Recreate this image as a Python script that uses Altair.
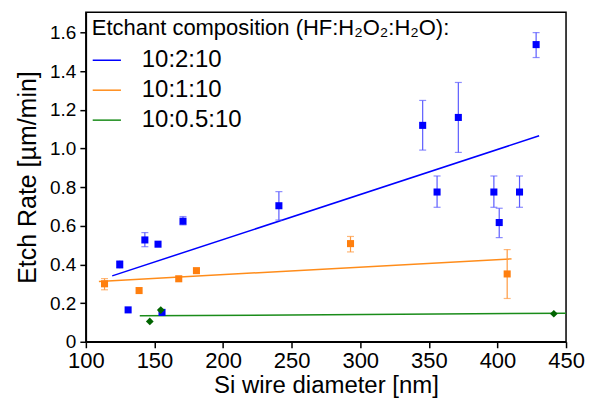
import altair as alt
import pandas as pd
import numpy as np

# ---- data ----
blue_x = [124.7, 130.8, 143.0, 152.6, 155.5, 170.8, 240.7, 345.5, 356.0, 371.5, 397.4, 401.3, 416.1, 428.2]
blue_y = [0.40, 0.165, 0.527, 0.505, 0.152, 0.624, 0.704, 1.12, 0.775, 1.161, 0.775, 0.617, 0.775, 1.538]
blue_lo = [0.38, None, 0.492, None, None, 0.605, 0.63, 0.992, 0.696, 0.98, 0.696, 0.539, 0.696, 1.471]
blue_hi = [0.42, None, 0.565, None, None, 0.648, 0.777, 1.249, 0.858, 1.342, 0.858, 0.691, 0.858, 1.60]

orange_x = [113.6, 138.8, 167.7, 180.6, 292.9, 407.1]
orange_y = [0.30, 0.265, 0.326, 0.368, 0.508, 0.351]
orange_lo = [0.269, None, None, None, 0.465, 0.224]
orange_hi = [0.327, None, None, None, 0.545, 0.477]

green_x = [146.6, 154.6, 441.1]
green_y = [0.105, 0.164, 0.145]

# fitted trend lines (end points)
fit_series = ["10:2:10", "10:2:10", "10:1:10", "10:1:10", "10:0.5:10", "10:0.5:10"]
fit_x = [119.2, 430.4, 109.5, 410.3, 139.3, 450.0]
fit_y = [0.341, 1.066, 0.312, 0.429, 0.134, 0.148]

series_names = ["10:2:10", "10:1:10", "10:0.5:10"]
series_colors = ["#0000FF", "#FF8C1A", "#1A8C1A"]
marker_colors = {"10:2:10": "#0000FF", "10:1:10": "#FF7F0E", "10:0.5:10": "#006400"}
err_colors = {"10:2:10": "#5C5CFF", "10:1:10": "#FF9A40"}

rows = []
for s, xs, ys, los, his in [("10:2:10", blue_x, blue_y, blue_lo, blue_hi),
                            ("10:1:10", orange_x, orange_y, orange_lo, orange_hi)]:
    for x, y, lo, hi in zip(xs, ys, los, his):
        rows.append(dict(series=s, x=x, y=y, lo=lo, hi=hi,
                         col=marker_colors[s], ecol=err_colors[s]))
pts = pd.DataFrame(rows)
err = pts.dropna(subset=["lo", "hi"])
green = pd.DataFrame(dict(x=green_x, y=green_y, col=marker_colors["10:0.5:10"]))
fits = pd.DataFrame(dict(series=fit_series, x=fit_x, y=fit_y))

FONT = "Liberation Sans"
xscale = alt.Scale(domain=[100, 450], nice=False, zero=False)
yscale = alt.Scale(domain=[0, 1.705], nice=False)

xvals = list(range(100, 451, 25))
yvals = [round(v, 1) for v in np.arange(0, 1.65, 0.1)]

xaxis = alt.Axis(
    title="Si wire diameter [nm]", values=xvals,
    labelExpr="datum.value % 50 == 0 ? datum.label : ''",
    tickSize={"condition": {"test": "datum.value % 50 == 0", "value": 6}, "value": 3},
    grid=False, labelFontSize=22, titleFontSize=24, labelColor="black", titleColor="black",
    labelFont=FONT, titleFont=FONT, titleFontWeight="normal", domainColor="black",
    tickColor="black", domainWidth=1.5, tickWidth=1.5, labelPadding=3, titlePadding=2,
    labelFlush=False, labelOverlap=False,
)
yaxis = alt.Axis(
    title="Etch Rate [µm/min]", values=yvals,
    labelExpr="round(datum.value*10) % 2 == 0 ? (datum.value == 0 ? '0' : format(datum.value, '.1f')) : ''",
    tickSize={"condition": {"test": "round(datum.value*10) % 2 == 0", "value": 6}, "value": 3},
    grid=False, labelFontSize=19, titleFontSize=25, labelColor="black", titleColor="black",
    labelFont=FONT, titleFont=FONT, titleFontWeight="normal", domainColor="black",
    tickColor="black", domainWidth=1.5, tickWidth=1.5, labelPadding=4, titlePadding=9,
    labelFlush=False, labelOverlap=False,
)

base_x = alt.X("x:Q", scale=xscale, axis=xaxis)
base_y = alt.Y("y:Q", scale=yscale, axis=yaxis)

lines = alt.Chart(fits).mark_line(strokeWidth=1.5).encode(
    x=base_x, y=base_y,
    color=alt.Color("series:N",
                    scale=alt.Scale(domain=series_names, range=series_colors),
                    sort=series_names,
                    legend=alt.Legend(
                        title="Etchant composition (HF:H₂O₂:H₂O):",
                        orient="none", legendX=6, legendY=6,
                        titleFontSize=22, labelFontSize=24, titleFont=FONT, labelFont=FONT,
                        titleFontWeight="normal", titleColor="black", labelColor="black",
                        symbolType="stroke", symbolSize=800, symbolStrokeWidth=1.5,
                        labelOffset=20, rowPadding=3, titlePadding=5, titleLimit=600,
                    )),
)

rules = alt.Chart(err).mark_rule(strokeWidth=1.2).encode(
    x="x:Q", y="lo:Q", y2="hi:Q", color=alt.Color("ecol:N", scale=None))
caps_lo = alt.Chart(err).mark_tick(orient="horizontal", size=7, thickness=1.2).encode(
    x="x:Q", y="lo:Q", color=alt.Color("ecol:N", scale=None))
caps_hi = alt.Chart(err).mark_tick(orient="horizontal", size=7, thickness=1.2).encode(
    x="x:Q", y="hi:Q", color=alt.Color("ecol:N", scale=None))

squares = alt.Chart(pts).mark_square(size=50, opacity=1).encode(
    x="x:Q", y="y:Q", color=alt.Color("col:N", scale=None))
diamonds = alt.Chart(green).mark_point(shape="diamond", filled=True, size=60, opacity=1).encode(
    x="x:Q", y="y:Q", color=alt.Color("col:N", scale=None))

chart = alt.layer(lines, rules, caps_lo, caps_hi, squares, diamonds).resolve_scale(
    color="independent"
).properties(
    width=481, height=330,
    autosize=alt.AutoSizeParams(type="none"),
    padding={"left": 78, "top": 4, "right": 20, "bottom": 58},
    background="white",
).configure_view(stroke="black", strokeWidth=1.5)

chart.save("out.html", embed_options={"renderer": "svg", "actions": False})
